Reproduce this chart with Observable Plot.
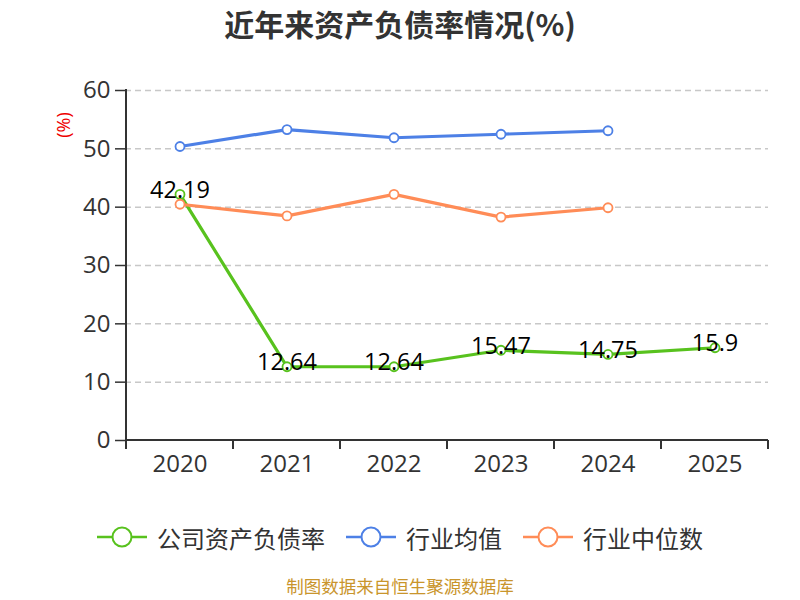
<!DOCTYPE html>
<html>
<head>
<meta charset="utf-8">
<script src="https://cdn.jsdelivr.net/npm/d3@7"></script>
<script src="https://cdn.jsdelivr.net/npm/@observablehq/plot@0.6"></script>
<style>
  html, body { margin: 0; padding: 0; background: #fff; }
  #wrap { position: relative; width: 800px; height: 600px; overflow: hidden;
          font-family: "Open Sans", "Noto Sans CJK SC", sans-serif; }
  #title { position: absolute; left: 0; top: 6px; width: 800px; text-align: center;
           font-size: 30px; line-height: 34px; font-weight: bold; color: #333;
           font-family: "Noto Sans CJK SC", sans-serif; }
  #chart { position: absolute; left: 0; top: 50px; }
  #unit { position: absolute; left: 63px; top: 125px; color: #e00; font-size: 18px; line-height: 18px;
          transform: translate(-50%, -50%) rotate(-90deg); white-space: nowrap; }
  #legend { position: absolute; top: 520px; left: 0; width: 800px; height: 34px; }
  .item { position: absolute; top: 0; display: flex; align-items: center; height: 34px;
          font-size: 24px; color: #333; font-family: "Noto Sans CJK SC", sans-serif; }
  .item svg { margin-right: 10px; }
  #caption { position: absolute; top: 576px; left: 0; width: 800px; text-align: center;
             font-size: 17.5px; line-height: 20px; color: #c9952c; font-family: "Noto Sans CJK SC", sans-serif; }
</style>
</head>
<body>
<div id="wrap">
  <div id="title">近年来资产负债率情况(%)</div>
  <div id="chart"></div>
  <div id="unit">(%)</div>
  <div id="legend"></div>
  <div id="caption">制图数据来自恒生聚源数据库</div>
</div>
<script>
const years = ["2020", "2021", "2022", "2023", "2024", "2025"];
const seriesNames = ["公司资产负债率", "行业均值", "行业中位数"];
const seriesColors = ["#58c21e", "#4d80e6", "#ff8c57"];
const company = [42.19, 12.64, 12.64, 15.47, 14.75, 15.9];
const industryAvg = [50.4, 53.3, 51.9, 52.5, 53.1];
const industryMedian = [40.5, 38.5, 42.2, 38.3, 39.9];
const yTicks = [0, 10, 20, 30, 40, 50, 60];

const rows = [];
company.forEach((v, i) => rows.push({year: years[i], value: v, series: seriesNames[0]}));
industryAvg.forEach((v, i) => rows.push({year: years[i], value: v, series: seriesNames[1]}));
industryMedian.forEach((v, i) => rows.push({year: years[i], value: v, series: seriesNames[2]}));
const companyRows = rows.filter(d => d.series === seriesNames[0]);

function axisLines(index, scales, values, dimensions) {
  const x = scales.x, y = scales.y;
  const bw = typeof x.bandwidth === "function" ? x.bandwidth() : 0;
  const g = d3.create("svg:g").attr("stroke", "#333").attr("stroke-width", 2);
  const y0 = y(0);
  const left = x(years[0]);
  const right = x(years[years.length - 1]) + bw;
  g.append("line").attr("x1", left).attr("x2", left).attr("y1", y(60) - 1).attr("y2", y0 + 1);
  g.append("line").attr("x1", left).attr("x2", right).attr("y1", y0).attr("y2", y0);
  const bounds = years.map(d => x(d)).concat([right]);
  for (const b of bounds) {
    g.append("line").attr("x1", b).attr("x2", b).attr("y1", y0).attr("y2", y0 + 9);
  }
  return g.node();
}

const chart = Plot.plot({
  width: 800,
  height: 430,
  marginTop: 40,
  marginBottom: 40,
  marginLeft: 125,
  marginRight: 32,
  style: {fontFamily: "'Open Sans', 'Noto Sans CJK SC', sans-serif", background: "transparent", overflow: "visible"},
  x: {type: "band", domain: years, padding: 0, label: null},
  y: {domain: [0, 60], label: null},
  color: {domain: seriesNames, range: seriesColors},
  marks: [
    Plot.gridY(yTicks.filter(t => t > 0), {stroke: "#c8c8c8", strokeOpacity: 1, strokeWidth: 1.5, strokeDasharray: "6,4"}),
    Plot.axisY(yTicks, {tickSize: 10, tickPadding: 5, fontSize: 24, fill: "#333", stroke: "#333", strokeWidth: 1.5, label: null}),
    Plot.axisX({tickSize: 0, tickPadding: 14, fontSize: 24, fill: "#333", label: null}),
    axisLines,
    Plot.line(rows, {x: "year", y: "value", z: "series", stroke: "series", strokeWidth: 3.2}),
    Plot.dot(rows, {x: "year", y: "value", stroke: "series", fill: "white", r: 4.5, strokeWidth: 1.8}),
    Plot.text(companyRows, {x: "year", y: "value", text: d => String(d.value), dy: -4, fontSize: 23.5, fill: "#000"})
  ]
});
document.getElementById("chart").appendChild(chart);

// legend
const legendPos = [97, 346, 523];
const legend = document.getElementById("legend");
seriesNames.forEach((name, i) => {
  const item = document.createElement("div");
  item.className = "item";
  item.style.left = legendPos[i] + "px";
  const c = seriesColors[i];
  item.innerHTML = `<svg width="50" height="26"><line x1="0" x2="50" y1="13" y2="13" stroke="${c}" stroke-width="2.5"/><circle cx="25" cy="13" r="9.5" fill="white" stroke="${c}" stroke-width="2"/></svg><span>${name}</span>`;
  legend.appendChild(item);
});
</script>
</body>
</html>
